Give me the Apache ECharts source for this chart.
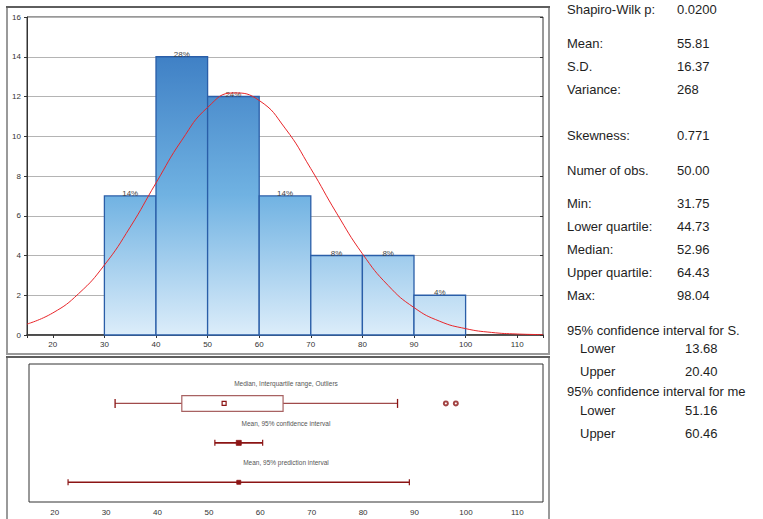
<!DOCTYPE html>
<html><head><meta charset="utf-8">
<script src="https://cdn.jsdelivr.net/npm/echarts@6/dist/echarts.min.js"></script>
<style>html,body{margin:0;padding:0;background:#fff}#c{width:763px;height:519px}</style>
</head><body><div id="c"></div>
<script>
// ---- Histogram data ----
const binStarts = [30, 40, 50, 60, 70, 80, 90];
const binEnds = [40, 50, 60, 70, 80, 90, 100];
const counts = [7, 14, 12, 7, 4, 4, 2];
const percentLabels = ['14%', '28%', '24%', '14%', '8%', '8%', '4%'];
// ---- Fitted normal curve ----
const curveX = [15, 20, 25, 30, 35, 40, 45, 50, 55, 60, 65, 70, 75, 80, 85, 90, 95, 100, 105, 110, 115];
const curveY = [0.55, 1.11, 2.08, 3.52, 5.43, 7.65, 9.80, 11.45, 12.18, 11.80, 10.41, 8.37, 6.13, 4.09, 2.49, 1.38, 0.69, 0.32, 0.13, 0.05, 0.02];
// ---- Tick labels ----
const xTickLabels = [20, 30, 40, 50, 60, 70, 80, 90, 100, 110];
const yTickLabels = [0, 2, 4, 6, 8, 10, 12, 14, 16];
// ---- Box plot data ----
const boxStats = [31.75, 44.73, 52.96, 64.43, 86.7]; // whisker low, Q1, median, Q3, whisker high
const outliers = [96.1, 98.04];
const meanCI = [51.16, 55.81, 60.46];
const predInterval = [22.6, 55.81, 89.0];
const rowLabels = ['Median, Interquartile range, Outliers', 'Mean, 95% confidence interval', 'Mean, 95% prediction interval'];
// ---- Statistics text ----
const statLabels = ['Shapiro-Wilk p:', 'Mean:', 'S.D.', 'Variance:', 'Skewness:', 'Numer of obs.', 'Min:', 'Lower quartile:', 'Median:', 'Upper quartile:', 'Max:', '95% confidence interval for S.', 'Lower', 'Upper', '95% confidence interval for me', 'Lower', 'Upper'];
const statValues = ['0.0200', '55.81', '16.37', '268', '0.771', '50.00', '31.75', '44.73', '52.96', '64.43', '98.04', '', '13.68', '20.40', '', '51.16', '60.46'];
const statIndent = [0, 0, 0, 0, 0, 0, 0, 0, 0, 0, 0, 0, 1, 1, 0, 1, 1];

const chart = echarts.init(document.getElementById('c'), null, {renderer: 'svg'});

const barFill = new echarts.graphic.LinearGradient(0, 17, 0, 335, [
  {offset: 0, color: '#3470ba'},
  {offset: 0.12, color: '#3f80c5'},
  {offset: 0.56, color: '#70b2e2'},
  {offset: 1, color: '#dcedfa'}
], true);

const statY = [9, 43, 66, 89, 135, 170, 203, 226, 249, 272, 295, 330, 348, 371, 391, 410, 433];
const graphics = [
  {type: 'rect', shape: {x: 7, y: 7, width: 542, height: 347}, style: {fill: 'none', stroke: '#9a9a9a', lineWidth: 2}, silent: true},
  {type: 'line', shape: {x1: 6, y1: 7, x2: 550, y2: 7}, style: {stroke: '#222', lineWidth: 1.2}, silent: true},
  {type: 'rect', shape: {x: 7, y: 357, width: 542, height: 180}, style: {fill: 'none', stroke: '#9a9a9a', lineWidth: 2}, silent: true},
  {type: 'line', shape: {x1: 6, y1: 357, x2: 550, y2: 357}, style: {stroke: '#222', lineWidth: 1.2}, silent: true}
];
statLabels.forEach((t, i) => {
  graphics.push({type: 'text', x: statIndent[i] ? 580 : 567, y: statY[i], style: {text: t, font: '13px "Liberation Sans", Arial, sans-serif', fill: '#1e1e1e', verticalAlign: 'middle'}, silent: true});
  if (statValues[i]) {
    graphics.push({type: 'text', x: statIndent[i] ? 685 : 677, y: statY[i], style: {text: statValues[i], font: '13px "Liberation Sans", Arial, sans-serif', fill: '#1e1e1e', verticalAlign: 'middle'}, silent: true});
  }
});

const lblFmt = v => xTickLabels.includes(v) ? String(v) : '';
const axisFont = {fontSize: 8, color: '#333', fontFamily: '"Liberation Sans", Arial, sans-serif'};
const dark = '#8b1414';

chart.setOption({
  animation: false,
  graphic: graphics,
  grid: [
    {left: 27, top: 17, width: 516, height: 318, show: true, borderColor: '#333', borderWidth: 1},
    {left: 29, top: 364, width: 514, height: 138, show: true, borderColor: '#333', borderWidth: 1}
  ],
  xAxis: [
    {gridIndex: 0, type: 'value', min: 15, max: 115, splitNumber: 10, position: 'bottom',
      axisLine: {show: true, lineStyle: {color: '#333', width: 1.5}},
      axisTick: {show: true, inside: false, length: 3, lineStyle: {color: '#333'}},
      axisLabel: Object.assign({margin: 5, formatter: lblFmt, showMinLabel: false, showMaxLabel: false}, axisFont),
      splitLine: {show: false}},
    {gridIndex: 0, type: 'value', min: 15, max: 115, splitNumber: 10, position: 'top',
      axisLine: {show: false}, axisTick: {show: true, inside: true, length: 3, lineStyle: {color: '#333'}},
      axisLabel: {show: false}, splitLine: {show: false}},
    {gridIndex: 1, type: 'value', min: 15, max: 115, splitNumber: 10, position: 'bottom',
      axisLine: {show: false}, axisTick: {show: false},
      axisLabel: Object.assign({margin: 6, formatter: lblFmt, showMinLabel: false, showMaxLabel: false}, axisFont),
      splitLine: {show: false}}
  ],
  yAxis: [
    {gridIndex: 0, type: 'value', min: 0, max: 16, interval: 2,
      axisLine: {show: true, lineStyle: {color: '#333'}},
      axisTick: {show: true, length: 3, lineStyle: {color: '#333'}},
      axisLabel: Object.assign({margin: 6, formatter: v => yTickLabels.includes(v) ? String(v) : ''}, axisFont),
      splitLine: {show: true, lineStyle: {color: '#b4b4b4', width: 1.2}}},
    {gridIndex: 0, type: 'value', min: 0, max: 16, interval: 2, position: 'right',
      axisLine: {show: false}, axisTick: {show: true, inside: true, length: 3, lineStyle: {color: '#333'}},
      axisLabel: {show: false}, splitLine: {show: false}},
    {gridIndex: 1, type: 'value', min: 0, max: 3.5, inverse: true, show: false}
  ],
  series: [
    {
      type: 'custom', xAxisIndex: 0, yAxisIndex: 0, z: 2,
      data: binStarts.map((s, i) => [s, binEnds[i], counts[i]]),
      encode: {x: [0, 1], y: 2},
      renderItem: (params, api) => {
        const p0 = api.coord([api.value(0), api.value(2)]);
        const p1 = api.coord([api.value(1), 0]);
        return {type: 'group', children: [
          {type: 'rect', shape: {x: p0[0], y: p0[1], width: p1[0] - p0[0], height: p1[1] - p0[1]},
            style: {fill: barFill, stroke: '#2a5ea8', lineWidth: 1.3}},
          {type: 'text', style: {text: percentLabels[params.dataIndex], x: (p0[0] + p1[0]) / 2, y: p0[1] + 1.5,
            align: 'center', verticalAlign: 'bottom', font: '8px "Liberation Sans", Arial, sans-serif', fill: '#444'}}
        ]};
      }
    },
    {
      type: 'line', xAxisIndex: 0, yAxisIndex: 0, z: 5, smooth: true, showSymbol: false, symbol: 'none',
      data: curveX.map((x, i) => [x, curveY[i]]),
      lineStyle: {color: '#e8262a', width: 1}
    },
    {
      type: 'custom', xAxisIndex: 2, yAxisIndex: 2, z: 3,
      data: [[1].concat(boxStats)],
      encode: {x: [1, 2, 3, 4, 5], y: 0},
      renderItem: (params, api) => {
        const row = api.value(0);
        const c = v => api.coord([v, row]);
        const pLo = c(api.value(1)), pQ1 = c(api.value(2)), pMed = c(api.value(3)), pQ3 = c(api.value(4)), pHi = c(api.value(5));
        const yT = api.coord([api.value(2), row - 0.2])[1], yB = api.coord([api.value(2), row + 0.2])[1];
        const top = Math.min(yT, yB), h = Math.abs(yB - yT);
        const ws = {stroke: '#a04a4a', lineWidth: 1.2};
        return {type: 'group', children: [
          {type: 'line', shape: {x1: pLo[0], y1: pLo[1], x2: pQ1[0], y2: pQ1[1]}, style: ws},
          {type: 'line', shape: {x1: pQ3[0], y1: pQ3[1], x2: pHi[0], y2: pHi[1]}, style: ws},
          {type: 'line', shape: {x1: pLo[0], y1: pLo[1] - 4.5, x2: pLo[0], y2: pLo[1] + 4.5}, style: {stroke: dark, lineWidth: 1.3}},
          {type: 'line', shape: {x1: pHi[0], y1: pHi[1] - 4.5, x2: pHi[0], y2: pHi[1] + 4.5}, style: {stroke: dark, lineWidth: 1.3}},
          {type: 'rect', shape: {x: pQ1[0], y: top, width: pQ3[0] - pQ1[0], height: h}, style: {fill: 'none', stroke: '#a86262', lineWidth: 1.2}},
          {type: 'rect', shape: {x: pMed[0] - 2, y: pMed[1] - 2, width: 4, height: 4}, style: {fill: '#fff', stroke: dark, lineWidth: 1.2}}
        ]};
      }
    },
    {
      type: 'scatter', xAxisIndex: 2, yAxisIndex: 2, z: 4, symbol: 'emptyCircle', symbolSize: 4,
      data: outliers.map(v => [v, 1]),
      itemStyle: {color: dark, borderColor: dark, borderWidth: 1.2}
    },
    {
      type: 'custom', xAxisIndex: 2, yAxisIndex: 2, z: 3,
      data: [[2].concat(meanCI), [3].concat(predInterval)],
      encode: {x: [1, 2, 3], y: 0},
      renderItem: (params, api) => {
        const row = api.value(0);
        const pLo = api.coord([api.value(1), row]), pM = api.coord([api.value(2), row]), pHi = api.coord([api.value(3), row]);
        const s = params.dataIndex === 0 ? 5 : 4;
        const st = {stroke: dark, lineWidth: 1.6};
        return {type: 'group', children: [
          {type: 'line', shape: {x1: pLo[0], y1: pLo[1], x2: pHi[0], y2: pHi[1]}, style: st},
          {type: 'line', shape: {x1: pLo[0], y1: pLo[1] - 3, x2: pLo[0], y2: pLo[1] + 3}, style: {stroke: dark, lineWidth: 1.2}},
          {type: 'line', shape: {x1: pHi[0], y1: pHi[1] - 3, x2: pHi[0], y2: pHi[1] + 3}, style: {stroke: dark, lineWidth: 1.2}},
          {type: 'rect', shape: {x: pM[0] - s / 2, y: pM[1] - s / 2, width: s, height: s}, style: {fill: dark, stroke: dark, lineWidth: 0.8}}
        ]};
      }
    },
    {
      type: 'custom', xAxisIndex: 2, yAxisIndex: 2, z: 3,
      data: rowLabels.map((t, i) => [65, i + 0.5]),
      renderItem: (params, api) => {
        const p = api.coord([api.value(0), api.value(1)]);
        return {type: 'text', style: {text: rowLabels[params.dataIndex], x: p[0], y: p[1], align: 'center', verticalAlign: 'middle',
          font: '6.5px "Liberation Sans", Arial, sans-serif', fill: '#555'}};
      }
    }
  ]
});
</script>
</body></html>
